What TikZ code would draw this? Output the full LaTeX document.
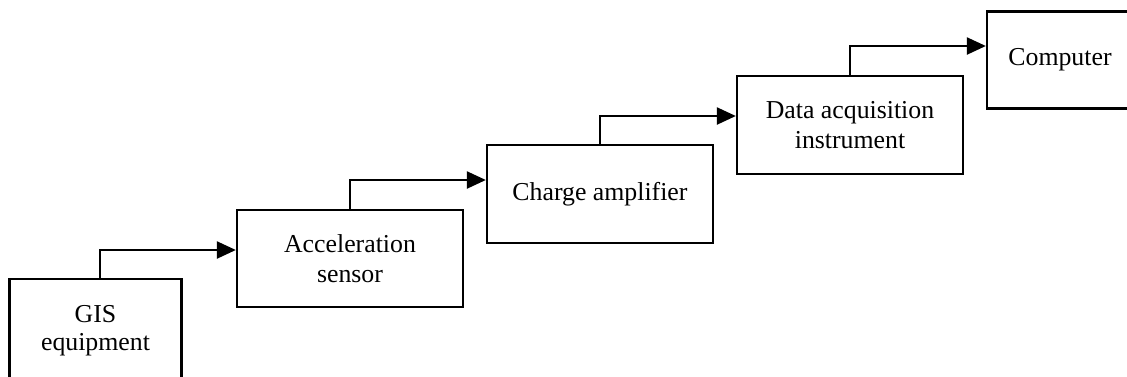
\documentclass[tikz,border=0pt]{standalone}
\usepackage{fontspec}
\setmainfont{Liberation Serif}
\usetikzlibrary{arrows.meta}
\begin{document}
\begin{tikzpicture}[x=1pt,y=-1pt,
  blockbox/.style={draw, line width=2.3pt, rectangle, align=center, inner sep=0pt,
    minimum height=97pt, font=\fontsize{25.8}{30}\selectfont},
  flow/.style={line width=2.3pt, -{Triangle[length=19pt,width=17pt]}}]
\useasboundingbox (0,0) rectangle (1127,376);
\clip (0,0) rectangle (1127,376);
\node[blockbox, minimum width=172pt, minimum height=103pt] (gis) at (95.5,330.5) {GIS\\[-2pt]equipment};
\node[blockbox, minimum width=226pt] (acc) at (350,258.5) {Acceleration\\sensor};
\node[blockbox, minimum width=226pt, minimum height=98pt] (amp) at (600,194) {Charge amplifier};
\node[blockbox, minimum width=226pt, minimum height=98pt] (daq) at (850,125) {Data acquisition\\instrument};
\node[blockbox, minimum width=180pt] (pc) at (1077,60) {\hspace*{-34pt}Computer};
\draw[flow] ([xshift=4.5pt]gis.north) |- ([yshift=8.5pt]acc.west);
\draw[flow] (acc.north) |- ([yshift=14pt]amp.west);
\draw[flow] (amp.north) |- ([yshift=9pt]daq.west);
\draw[flow] (daq.north) |- ([yshift=14pt]pc.west);
\end{tikzpicture}
\end{document}
